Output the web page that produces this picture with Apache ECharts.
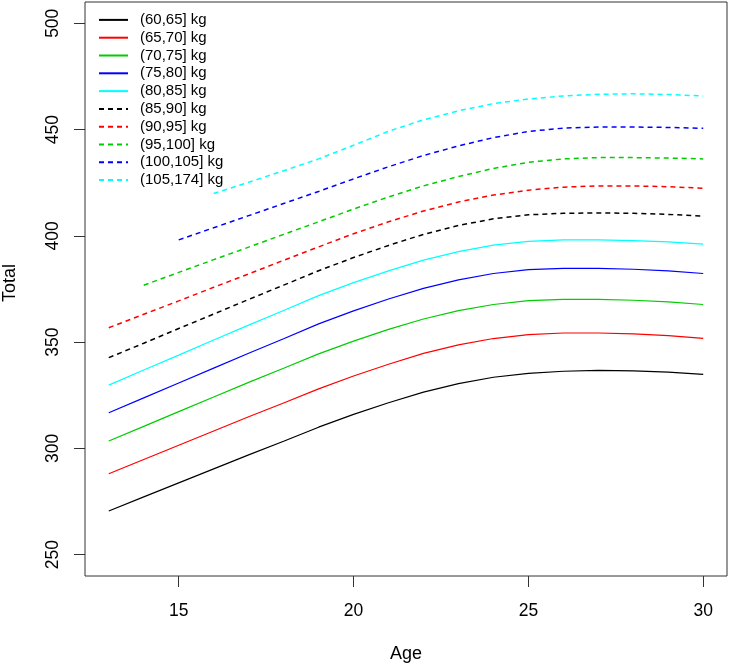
<!DOCTYPE html>
<html>
<head>
<meta charset="utf-8">
<script src="https://cdn.jsdelivr.net/npm/echarts@6/dist/echarts.min.js"></script>
<style>
html,body{margin:0;padding:0;background:#fff;}
#chart{width:729px;height:668px;}
</style>
</head>
<body>
<div id="chart"></div>
<script>
// Ages (x values)
var ages = [13,14,15,16,17,18,19,20,21,22,23,24,25,26,27,28,29,30];

// Tick values
var xTicks = [15,20,25,30];
var yTicks = [250,300,350,400,450,500];

// Series names
var classNames = ["(60,65] kg","(65,70] kg","(70,75] kg","(75,80] kg","(80,85] kg",
                  "(85,90] kg","(90,95] kg","(95,100] kg","(100,105] kg","(105,174] kg"];

// Series values (Total) per age, null where the class has no curve
var w60_65   = [270.6,277.2,283.8,290.4,297.0,303.4,310.0,316.0,321.5,326.5,330.5,333.5,335.3,336.3,336.7,336.5,335.9,334.8];
var w65_70   = [288.1,294.8,301.5,308.2,314.9,321.4,328.0,334.1,339.6,344.7,348.7,351.7,353.5,354.3,354.3,353.9,353.1,351.8];
var w70_75   = [303.5,310.4,317.3,324.2,331.1,337.7,344.5,350.5,356.0,360.9,364.8,367.7,369.5,370.1,370.1,369.7,368.9,367.7];
var w75_80   = [316.8,323.8,330.8,337.8,344.8,351.6,358.6,364.7,370.3,375.3,379.3,382.3,384.1,384.7,384.7,384.3,383.5,382.3];
var w80_85   = [329.8,336.9,343.9,351.0,358.0,364.9,371.9,378.0,383.5,388.6,392.6,395.6,397.4,398.1,398.1,397.8,397.2,396.1];
var w85_90   = [342.7,349.5,356.4,363.2,370.1,376.8,383.6,389.8,395.5,400.7,404.9,408.0,409.9,410.6,410.8,410.6,410.1,409.3];
var w90_95   = [356.8,363.1,369.4,375.8,382.1,388.5,394.8,401.0,406.6,411.7,415.9,419.2,421.5,422.9,423.5,423.5,423.1,422.4];
var w95_100  = [null,376.8,382.8,388.8,394.7,400.7,406.6,412.6,418.3,423.5,427.9,431.7,434.6,436.2,436.8,436.8,436.6,436.2];
var w100_105 = [null,null,398.1,403.8,409.5,415.2,420.9,426.8,432.5,437.8,442.3,446.2,449.1,450.7,451.2,451.2,451.0,450.6];
var w105_174 = [null,null,null,419.9,425.2,430.6,436.2,442.6,449.2,454.6,458.8,462.2,464.4,465.8,466.6,466.8,466.5,465.8];

var allValues = [w60_65,w65_70,w70_75,w75_80,w80_85,w85_90,w90_95,w95_100,w100_105,w105_174];
var colors = ["#000000","#ff0000","#00cd00","#0000ff","#00ffff",
              "#000000","#ff0000","#00cd00","#0000ff","#00ffff"];

var FONT = '"Liberation Sans", Arial, Helvetica, sans-serif';

var series = allValues.map(function(vals, k){
  var data = [];
  ages.forEach(function(a, i){ if (vals[i] !== null) data.push([a, vals[i]]); });
  var dashed = k >= 5;
  return {
    name: classNames[k],
    type: 'line',
    data: data,
    symbol: 'none',
    showSymbol: false,
    smooth: false,
    lineStyle: {
      color: colors[k],
      width: dashed ? 1.5 : 1.2,
      type: dashed ? [5,4] : 'solid'
    },
    itemStyle: {color: colors[k]},
    emphasis: {disabled: true},
    animation: false
  };
});

var chart = echarts.init(document.getElementById('chart'), null, {renderer: 'canvas'});
chart.setOption({
  animation: false,
  backgroundColor: '#ffffff',
  grid: {
    left: 85, top: 2, right: 2, bottom: 92,
    containLabel: false,
    outerBoundsMode: 'none',
    show: true, borderColor: '#333333', borderWidth: 1, backgroundColor: 'transparent'
  },
  legend: {
    orient: 'vertical',
    left: 98, top: 11,
    padding: 0,
    itemGap: 0,
    itemWidth: 29,
    itemHeight: 2,
    itemStyle: {opacity: 0},
    data: classNames,
    textStyle: {
      fontFamily: FONT, fontSize: 15, color: '#000', lineHeight: 17.8,
      padding: [0,0,0,7]
    },
    selectedMode: false
  },
  xAxis: {
    type: 'value',
    min: 12.32, max: 30.68,
    name: 'Age',
    nameLocation: 'middle',
    nameGap: 69,
    nameTextStyle: {fontFamily: FONT, fontSize: 18, color: '#000'},
    axisLine: {show: false},
    splitLine: {show: false},
    axisTick: {show: true, length: 11, inside: false, customValues: xTicks,
               lineStyle: {color: '#333', width: 1}},
    axisLabel: {show: true, customValues: xTicks, margin: 26,
                fontFamily: FONT, fontSize: 17.5, color: '#000'}
  },
  yAxis: {
    type: 'value',
    min: 240, max: 510,
    name: 'Total',
    nameLocation: 'middle',
    nameGap: 65.5,
    nameTextStyle: {fontFamily: FONT, fontSize: 18, color: '#000', padding: [0,0,0,12]},
    axisLine: {show: false},
    splitLine: {show: false},
    axisTick: {show: true, length: 11, inside: false, customValues: yTicks,
               lineStyle: {color: '#333', width: 1}},
    axisLabel: {show: true, customValues: yTicks, rotate: 90, margin: 22.5,
                fontFamily: FONT, fontSize: 17.5, color: '#000'}
  },
  series: series
});
</script>
</body>
</html>
